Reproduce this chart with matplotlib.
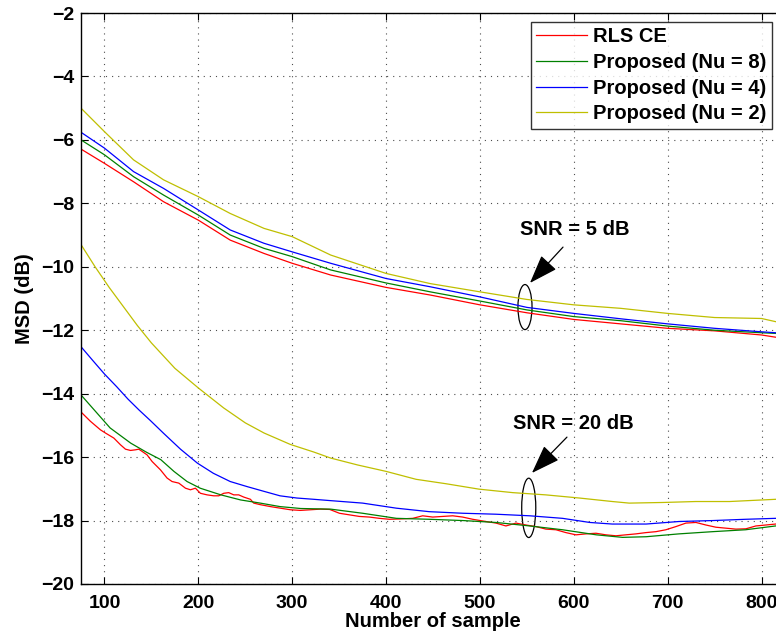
import matplotlib
matplotlib.use("Agg")
import matplotlib.pyplot as plt
from matplotlib.patches import Ellipse

plt.rcParams['font.family'] = ['Liberation Sans', 'DejaVu Sans']
plt.rcParams['font.weight'] = 'bold'
plt.rcParams['axes.labelweight'] = 'bold'

# ---- SNR = 5 dB curves ----
x_5 = [75, 100, 131, 163, 200, 234, 270, 300, 341, 400, 447, 500, 550, 600,
       650, 700, 750, 800, 815, 825]
rls_5 = [-6.29, -6.74, -7.32, -7.95, -8.53, -9.16, -9.58, -9.89, -10.26, -10.65,
         -10.89, -11.20, -11.45, -11.66, -11.80, -11.94, -12.02, -12.15, -12.22, -12.25]
nu8_5 = [-6.00, -6.47, -7.16, -7.74, -8.37, -9.00, -9.42, -9.68, -10.10, -10.51,
         -10.79, -11.08, -11.36, -11.57, -11.70, -11.87, -12.00, -12.08, -12.10, -12.12]
nu4_5 = [-5.76, -6.26, -7.00, -7.53, -8.21, -8.84, -9.26, -9.53, -9.89, -10.37,
         -10.63, -10.95, -11.28, -11.47, -11.64, -11.80, -11.94, -12.05, -12.08, -12.10]
nu2_5 = [-5.00, -5.74, -6.63, -7.26, -7.79, -8.32, -8.79, -9.05, -9.63, -10.21,
         -10.53, -10.79, -11.03, -11.20, -11.31, -11.47, -11.60, -11.63, -11.73, -11.76]

# ---- SNR = 20 dB curves ----
x_rls_20 = [74.4, 85, 95.7, 101, 110, 117, 122.4, 127.7, 133, 136.6, 140.1, 145.4,
            150.8, 159.6, 166.7, 172, 179.2, 186.3, 191.6, 196.9, 202.2, 209.3,
            216.4, 221.8, 227.1, 232.4, 237.7, 243, 248.4, 255.5, 259, 266.1,
            276.8, 287.4, 298.1, 308.7, 319.4, 330, 340, 350.3, 360.9, 371.5,
            382.2, 392.8, 403.5, 414.1, 428.4, 439, 449.7, 460.3, 471, 481.6,
            492.3, 506.4, 517.1, 527.7, 538.4, 549, 559.7, 570.3, 581, 591.6,
            602.3, 612.9, 623.6, 634.2, 644.9, 655.5, 666.2, 676.8, 687.5, 698.1,
            708.8, 719.4, 730.1, 740.7, 751.4, 762, 772.7, 783.3, 794, 804.6, 815, 825]
rls_20 = [-14.56, -14.87, -15.14, -15.24, -15.40, -15.61, -15.75, -15.79, -15.77,
          -15.75, -15.82, -15.93, -16.14, -16.40, -16.66, -16.77, -16.82, -16.98,
          -17.03, -16.98, -17.14, -17.19, -17.22, -17.22, -17.14, -17.12, -17.19,
          -17.19, -17.26, -17.33, -17.45, -17.50, -17.56, -17.61, -17.66, -17.68,
          -17.66, -17.64, -17.65, -17.77, -17.82, -17.87, -17.89, -17.93, -17.96,
          -17.95, -17.93, -17.85, -17.89, -17.87, -17.85, -17.89, -17.96, -18.03,
          -18.08, -18.17, -18.08, -18.14, -18.19, -18.27, -18.29, -18.38, -18.45,
          -18.42, -18.40, -18.45, -18.48, -18.45, -18.42, -18.38, -18.35, -18.29,
          -18.19, -18.08, -18.06, -18.14, -18.21, -18.24, -18.27, -18.26, -18.17,
          -18.14, -18.11, -18.10]
x_nu8_20 = [75, 89, 106, 128, 145, 160, 174, 188, 202, 224, 245, 266, 287, 309,
            341, 375, 411, 446, 482, 517, 553, 588, 624, 652, 677, 712, 748, 783,
            815, 825]
nu8_20 = [-14.04, -14.51, -15.08, -15.56, -15.85, -16.08, -16.45, -16.77, -16.98,
          -17.19, -17.35, -17.45, -17.56, -17.62, -17.64, -17.77, -17.93, -17.96,
          -18.00, -18.06, -18.17, -18.29, -18.45, -18.53, -18.51, -18.42, -18.35,
          -18.29, -18.17, -18.14]
x_nu4_20 = [75, 88, 100, 113, 125, 137, 149, 163, 181, 199, 216, 234, 252, 270,
            287, 305, 323, 340, 375, 411, 446, 482, 517, 553, 588, 617, 641, 677,
            712, 748, 783, 815, 825]
nu4_20 = [-12.52, -12.97, -13.38, -13.78, -14.17, -14.52, -14.85, -15.25, -15.75,
          -16.19, -16.51, -16.77, -16.93, -17.08, -17.22, -17.29, -17.33, -17.37,
          -17.45, -17.61, -17.72, -17.77, -17.80, -17.85, -17.93, -18.06, -18.11,
          -18.11, -18.03, -18.00, -17.96, -17.93, -17.92]
x_nu2_20 = [75, 90, 105, 120, 135, 150, 175, 200, 227, 250, 270, 298, 323, 341,
            370, 400, 432, 464, 499, 535, 570, 606, 641, 659, 695, 730, 766, 815, 825]
nu2_20 = [-9.30, -10.00, -10.65, -11.25, -11.85, -12.40, -13.20, -13.82, -14.45,
          -14.92, -15.24, -15.60, -15.84, -16.03, -16.25, -16.45, -16.70, -16.84,
          -17.01, -17.12, -17.19, -17.29, -17.40, -17.45, -17.43, -17.40, -17.40,
          -17.33, -17.31]

labels = ['RLS CE', 'Proposed (Nu = 8)', 'Proposed (Nu = 4)', 'Proposed (Nu = 2)']
colors = ['#ff0000', '#008000', '#0000ff', '#bfbf00']

x_ticks = [100, 200, 300, 400, 500, 600, 700, 800]
y_ticks = [-20, -18, -16, -14, -12, -10, -8, -6, -4, -2]

fig = plt.figure(figsize=(7.76, 6.36), dpi=100)
ax = fig.add_axes([81 / 776, 52 / 636, 704 / 776, 571 / 636])

lw = 0.9
h1, = ax.plot(x_5, rls_5, color=colors[0], lw=lw, label=labels[0])
h2, = ax.plot(x_5, nu8_5, color=colors[1], lw=lw, label=labels[1])
h3, = ax.plot(x_5, nu4_5, color=colors[2], lw=lw, label=labels[2])
h4, = ax.plot(x_5, nu2_5, color=colors[3], lw=lw, label=labels[3])
ax.plot(x_rls_20, rls_20, color=colors[0], lw=lw)
ax.plot(x_nu8_20, nu8_20, color=colors[1], lw=lw)
ax.plot(x_nu4_20, nu4_20, color=colors[2], lw=lw)
ax.plot(x_nu2_20, nu2_20, color=colors[3], lw=lw)

ax.set_xlim(75, 825)
ax.set_ylim(-20, -2)
ax.set_xticks(x_ticks)
ax.set_yticks(y_ticks)
ax.tick_params(direction='in', length=5, width=0.8, labelsize=14,
               top=True, right=True)
ax.tick_params(axis='x', pad=8)
ax.tick_params(axis='y', pad=5)
for s in ax.spines.values():
    s.set_linewidth(1.0)
ax.grid(True, linestyle=(0, (1, 4.5)), linewidth=0.8, color='0.3')

ax.set_xlabel('Number of sample', fontsize=14.5, fontweight='bold', labelpad=0)
ax.set_ylabel('MSD (dB)', fontsize=14.5, fontweight='bold', labelpad=5)

leg = ax.legend(handles=[h1, h2, h3, h4], loc='upper left',
                bbox_to_anchor=(531 / 776, 1 - 22 / 636),
                bbox_transform=fig.transFigure, borderaxespad=0,
                prop={'weight': 'bold', 'size': 14.5},
                handlelength=2.5, handletextpad=0.3, labelspacing=0.33,
                borderpad=0.27, fancybox=False, frameon=True)
leg.get_frame().set_edgecolor('black')
leg.get_frame().set_linewidth(1.0)

# SNR group markers
ax.add_patch(Ellipse((548, -11.27), 15, 1.42, fill=False, edgecolor='black', lw=0.9))
ax.add_patch(Ellipse((552, -17.6), 15, 1.87, fill=False, edgecolor='black', lw=0.9))

ax.text(601, -8.84, 'SNR = 5 dB', fontsize=14.5, fontweight='bold',
        ha='center', va='center')
ax.text(599, -14.93, 'SNR = 20 dB', fontsize=14.5, fontweight='bold',
        ha='center', va='center')

arrow_kw = dict(arrowstyle='-|>,head_length=0.9,head_width=0.32', color='black',
                lw=0.9, mutation_scale=20, shrinkA=0, shrinkB=0)
ax.annotate('', xy=(553.3, -10.51), xytext=(588.5, -9.38), arrowprops=arrow_kw)
ax.annotate('', xy=(555.4, -16.5), xytext=(592.7, -15.37), arrowprops=arrow_kw)

fig.savefig('out.png', dpi=100)
